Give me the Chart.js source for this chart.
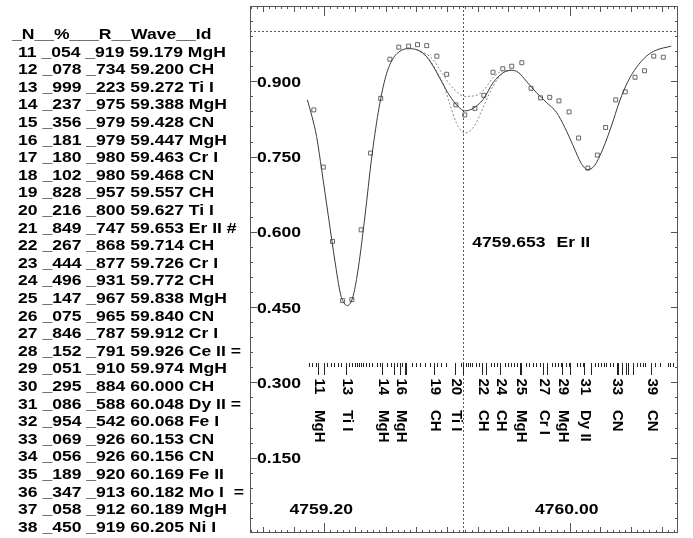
<!DOCTYPE html>
<html>
<head>
<meta charset="utf-8">
<script src="https://cdn.jsdelivr.net/npm/chart.js@4.4.1/dist/chart.umd.min.js"></script>
<style>
  html, body { margin: 0; padding: 0; background: #fff; }
  #wrap { width: 693px; height: 538px; }
</style>
</head>
<body>
<div id="wrap"><canvas id="spec" width="693" height="538"></canvas></div>
<script>
// ---- axis ranges ----
const xMin = 4758.958, xMax = 4760.353;
const yMin = 0, yMax = 1.05;
const continuum = 1.0;
const erWave = 4759.653;
const erLabel = '4759.653  Er II';
const xLabelValues = [4759.20, 4760.00];
const yLabelValues = [0.15, 0.30, 0.45, 0.60, 0.75, 0.90];

// ---- observed spectrum (squares) ----
const obsWave = [4759.166, 4759.197, 4759.227, 4759.260, 4759.290, 4759.320, 4759.351, 4759.384,
  4759.414, 4759.443, 4759.475, 4759.504, 4759.534, 4759.567, 4759.599, 4759.629, 4759.658,
  4759.691, 4759.720, 4759.750, 4759.782, 4759.811, 4759.844, 4759.874, 4759.905, 4759.935,
  4759.965, 4759.998, 4760.029, 4760.059, 4760.090, 4760.117, 4760.150, 4760.181, 4760.213,
  4760.244, 4760.274, 4760.305];
const obsFlux = [0.843, 0.729, 0.581, 0.463, 0.465, 0.604, 0.757, 0.866,
  0.944, 0.968, 0.970, 0.973, 0.971, 0.950, 0.914, 0.853, 0.833,
  0.846, 0.872, 0.918, 0.925, 0.930, 0.937, 0.886, 0.867, 0.868,
  0.861, 0.839, 0.787, 0.727, 0.753, 0.808, 0.863, 0.879, 0.908,
  0.921, 0.950, 0.948];

// ---- synthetic spectrum (solid) ----
const synthWave = [4759.145, 4759.160, 4759.175, 4759.192, 4759.213, 4759.235, 4759.253, 4759.265,
  4759.275, 4759.285, 4759.295, 4759.311, 4759.333, 4759.354, 4759.376, 4759.398, 4759.419,
  4759.447, 4759.474, 4759.501, 4759.528, 4759.555, 4759.582, 4759.609, 4759.636, 4759.658,
  4759.685, 4759.718, 4759.750, 4759.783, 4759.810, 4759.832, 4759.859, 4759.892, 4759.924,
  4759.957, 4759.984, 4760.011, 4760.038, 4760.058, 4760.081, 4760.108, 4760.136, 4760.163,
  4760.190, 4760.217, 4760.250, 4760.282, 4760.331];
const synthFlux = [0.863, 0.830, 0.790, 0.722, 0.633, 0.541, 0.476, 0.458,
  0.453, 0.458, 0.474, 0.528, 0.633, 0.745, 0.838, 0.904, 0.940,
  0.960, 0.965, 0.963, 0.953, 0.930, 0.900, 0.871, 0.850, 0.841,
  0.846, 0.864, 0.897, 0.917, 0.922, 0.918, 0.900, 0.877, 0.858,
  0.838, 0.808, 0.772, 0.736, 0.724, 0.732, 0.765, 0.811, 0.861,
  0.900, 0.927, 0.950, 0.962, 0.970];

// ---- synthetic with less / more Er II (dotted) ----
const lessWave = [4759.501, 4759.528, 4759.555, 4759.582, 4759.609, 4759.636, 4759.658, 4759.690,
  4759.718, 4759.750, 4759.783, 4759.810];
const lessFlux = [0.963, 0.956, 0.943, 0.918, 0.894, 0.877, 0.870, 0.871,
  0.881, 0.907, 0.921, 0.922];
const moreWave = [4759.501, 4759.528, 4759.544, 4759.566, 4759.588, 4759.609, 4759.630, 4759.648,
  4759.658, 4759.672, 4759.690, 4759.718, 4759.750, 4759.783, 4759.810];
const moreFlux = [0.963, 0.952, 0.942, 0.920, 0.895, 0.855, 0.818, 0.800,
  0.797, 0.800, 0.812, 0.848, 0.890, 0.917, 0.922];

// ---- line list (left column) ----
const listHeader = '_N__%___R__Wave__Id';
const lineNum  = [11, 12, 13, 14, 15, 16, 17, 18, 19, 20, 21, 22, 23, 24,
  25, 26, 27, 28, 29, 30, 31, 32, 33, 34, 35, 36, 37, 38];
const linePct  = ['054', '078', '999', '237', '356', '181', '180', '102', '828', '216', '849', '267', '444', '496',
  '147', '075', '846', '152', '051', '295', '086', '954', '069', '056', '189', '347', '058', '450'];
const lineR    = ['919', '734', '223', '975', '979', '979', '980', '980', '957', '800', '747', '868', '877', '931',
  '967', '965', '787', '791', '910', '884', '588', '542', '926', '926', '920', '913', '912', '919'];
const lineWave = ['59.179', '59.200', '59.272', '59.388', '59.428', '59.447', '59.463', '59.468', '59.557', '59.627',
  '59.653', '59.714', '59.726', '59.772', '59.838', '59.840', '59.912', '59.926', '59.974', '60.000',
  '60.048', '60.068', '60.153', '60.156', '60.169', '60.182', '60.189', '60.205'];
const lineId   = ['MgH', 'CH', 'Ti I', 'MgH', 'CN', 'MgH', 'Cr I', 'CN', 'CH', 'Ti I', 'Er II #', 'CH', 'Cr I', 'CH',
  'MgH', 'CN', 'Cr I', 'Ce II =', 'MgH', 'CH', 'Dy II =', 'Fe I', 'CN', 'CN', 'Fe II', 'Mo I  =', 'MgH', 'Ni I'];

// ---- identified lines labelled under the spectrum ----
const markNum  = [11, 13, 14, 16, 19, 20, 22, 24, 25, 27, 29, 31, 33, 39];
const markWave = [4759.179, 4759.272, 4759.388, 4759.447, 4759.557, 4759.627, 4759.714, 4759.772,
  4759.838, 4759.912, 4759.974, 4760.048, 4760.153, 4760.266];
const markId   = ['MgH', 'Ti I', 'MgH', 'MgH', 'CH', 'Ti I', 'CH', 'CH', 'MgH', 'Cr I', 'MgH', 'Dy II', 'CN', 'CN'];

// ---- other (weak) lines, short ticks ----
const weakWave = [4759.150, 4759.160, 4759.173, 4759.209, 4759.222, 4759.232, 4759.245, 4759.254,
  4759.280, 4759.290, 4759.300, 4759.306, 4759.313, 4759.320, 4759.326, 4759.336, 4759.346, 4759.355,
  4759.372, 4759.381, 4759.404, 4759.417, 4759.437, 4759.453, 4759.486, 4759.499, 4759.512, 4759.528,
  4759.544, 4759.567, 4759.580, 4759.596, 4759.645, 4759.661, 4759.668, 4759.674, 4759.681, 4759.694,
  4759.704, 4759.743, 4759.753, 4759.762, 4759.788, 4759.798, 4759.808, 4759.818, 4759.827, 4759.857,
  4759.867, 4759.880, 4759.889, 4759.902, 4759.941, 4759.951, 4759.961, 4759.971, 4759.987, 4759.997,
  4760.023, 4760.033, 4760.042, 4760.081, 4760.091, 4760.101, 4760.111, 4760.118, 4760.131, 4760.140,
  4760.219, 4760.228, 4760.238, 4760.245, 4760.277, 4760.293, 4760.320, 4760.326, 4760.336];

const FONT = 'bold 15px "Liberation Sans", Arial, sans-serif';
const SX = 1.17; // horizontal stretch of the lettering

function pts(xs, ys) {
  return xs.map((x, i) => ({ x: x, y: ys[i] }));
}

function stretchText(ctx, str, x, y, sx, align) {
  ctx.save();
  ctx.translate(x, y);
  ctx.scale(sx, 1);
  ctx.textAlign = align || 'left';
  ctx.fillText(str, 0, 0);
  ctx.restore();
}

// words drawn one by one so the gap can be a bit wider than a space
function spacedText(ctx, str, x, y, sx, gap) {
  let cx = x;
  str.split(' ').forEach(tok => {
    if (tok) {
      stretchText(ctx, tok, cx, y, sx);
      cx += ctx.measureText(tok).width * sx;
    }
    cx += gap;
  });
}

function seg(ctx, x1, y1, x2, y2) {
  ctx.beginPath();
  ctx.moveTo(x1, y1);
  ctx.lineTo(x2, y2);
  ctx.stroke();
}

const decorPlugin = {
  id: 'decor',
  beforeDatasetsDraw(chart) {
    const { ctx, chartArea: a, scales: { x, y } } = chart;
    ctx.save();
    ctx.strokeStyle = '#555';
    ctx.lineWidth = 1;
    ctx.setLineDash([2, 2]);
    const yc = Math.round(y.getPixelForValue(continuum)) + 0.5;
    seg(ctx, a.left, yc, a.right, yc);
    const xe = Math.round(x.getPixelForValue(erWave)) + 0.5;
    seg(ctx, xe, a.top, xe, a.bottom);
    ctx.restore();
  },
  afterDatasetsDraw(chart) {
    const { ctx, chartArea: a, scales: { x, y } } = chart;
    ctx.save();

    // frame
    ctx.strokeStyle = '#555';
    ctx.lineWidth = 1;
    ctx.strokeRect(a.left + 0.5, a.top + 0.5, a.right - a.left - 1, a.bottom - a.top - 1);

    // x ticks, top and bottom, pointing inward
    for (let k = Math.ceil(xMin * 50); k <= Math.floor(xMax * 50); k++) {
      const px = Math.round(x.getPixelForValue(k / 50)) + 0.5;
      let len = 3;
      if (k % 5 === 0) len = 6;
      if (k % 40 === 0) len = 10;
      seg(ctx, px, a.top, px, a.top + len);
      seg(ctx, px, a.bottom, px, a.bottom - len);
    }
    // y ticks, left and right
    for (let k = 1; k * 0.03 < yMax; k++) {
      const py = Math.round(y.getPixelForValue(k * 0.03)) + 0.5;
      const len = k % 5 === 0 ? 7 : 3;
      seg(ctx, a.left, py, a.left + len, py);
      seg(ctx, a.right, py, a.right - len, py);
    }

    ctx.fillStyle = '#000';
    ctx.font = FONT;
    ctx.textBaseline = 'middle';

    // y labels inside the frame
    yLabelValues.forEach(v => {
      stretchText(ctx, v.toFixed(3), a.left + 7, y.getPixelForValue(v) + 1.5, SX, 'left');
    });
    // x labels inside the frame
    xLabelValues.forEach(v => {
      stretchText(ctx, v.toFixed(2), x.getPixelForValue(v) - 3, y.getPixelForValue(0.047), SX, 'center');
    });

    // Er II identification
    spacedText(ctx, erLabel, x.getPixelForValue(erWave) + 9, y.getPixelForValue(0.579), SX, 5.5);

    // line identification ticks
    const tTop = Math.round(y.getPixelForValue(0.338));
    ctx.strokeStyle = '#222';
    weakWave.forEach(w => {
      const px = Math.round(x.getPixelForValue(w)) + 0.5;
      seg(ctx, px, tTop, px, tTop + 4);
    });
    lineWave.forEach(w => {
      const px = Math.round(x.getPixelForValue(4700 + parseFloat(w))) + 0.5;
      seg(ctx, px, tTop, px, tTop + 12);
    });
    const px39 = Math.round(x.getPixelForValue(markWave[markWave.length - 1])) + 0.5;
    seg(ctx, px39, tTop, px39, tTop + 12);

    // rotated labels: number, then species
    const numTop = y.getPixelForValue(0.308);
    const idTop = y.getPixelForValue(0.245);
    markNum.forEach((n, i) => {
      const px = x.getPixelForValue(markWave[i]);
      ctx.save();
      ctx.translate(px + 1, numTop);
      ctx.rotate(Math.PI / 2);
      ctx.textAlign = 'left';
      ctx.fillText(String(n), 0, 0);
      ctx.restore();
      ctx.save();
      ctx.translate(px + 1, idTop);
      ctx.rotate(Math.PI / 2);
      ctx.textAlign = 'left';
      ctx.fillText(markId[i], 0, 0);
      ctx.restore();
    });

    // line list on the left
    const rowH = 17.6;
    const row0 = 52.5;
    stretchText(ctx, listHeader, 12, row0 - rowH - 0.5, SX, 'left');
    lineNum.forEach((n, i) => {
      const row = n + ' _' + linePct[i] + ' _' + lineR[i] + ' ' + lineWave[i] + ' ' + lineId[i];
      stretchText(ctx, row, 18, row0 + i * rowH, SX, 'left');
    });

    ctx.restore();
  }
};

const canvas = document.getElementById('spec');
new Chart(canvas.getContext('2d'), {
  type: 'line',
  data: {
    datasets: [
      {
        label: 'synthetic',
        data: pts(synthWave, synthFlux),
        borderColor: '#3a3a3a',
        borderWidth: 1,
        pointRadius: 0,
        cubicInterpolationMode: 'monotone',
        fill: false
      },
      {
        label: 'less Er',
        data: pts(lessWave, lessFlux),
        borderColor: '#888',
        borderWidth: 1,
        borderDash: [2, 2],
        pointRadius: 0,
        cubicInterpolationMode: 'monotone',
        fill: false
      },
      {
        label: 'more Er',
        data: pts(moreWave, moreFlux),
        borderColor: '#888',
        borderWidth: 1,
        borderDash: [2, 2],
        pointRadius: 0,
        cubicInterpolationMode: 'monotone',
        fill: false
      },
      {
        label: 'observed',
        data: pts(obsWave, obsFlux),
        showLine: false,
        pointStyle: 'rect',
        pointRadius: 2.8,
        pointBorderWidth: 1,
        pointBorderColor: '#666',
        pointBackgroundColor: 'rgba(255,255,255,0)'
      }
    ]
  },
  options: {
    responsive: false,
    animation: false,
    events: [],
    layout: { padding: { left: 250, top: 6, right: 15, bottom: 1 } },
    scales: {
      x: { type: 'linear', min: xMin, max: xMax, display: false },
      y: { type: 'linear', min: yMin, max: yMax, display: false }
    },
    plugins: {
      legend: { display: false },
      tooltip: { enabled: false }
    }
  },
  plugins: [decorPlugin]
});
</script>
</body>
</html>
